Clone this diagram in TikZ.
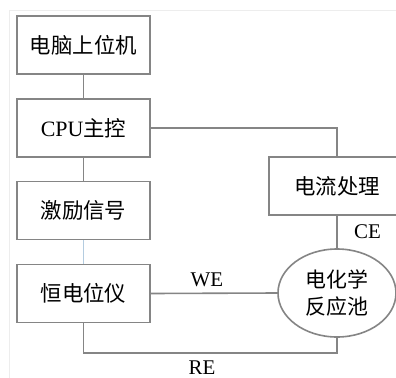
\documentclass[tikz,border=0pt]{standalone}
\usepackage{fontspec}
\setmainfont{Liberation Serif}
\newfontfamily\cjk{Noto Sans CJK SC}
\usetikzlibrary{shapes.geometric}
\definecolor{linegray}{HTML}{858585}
\definecolor{faintgray}{HTML}{EDEDED}
\definecolor{linkblue}{HTML}{B4CCE0}
\tikzset{
  stepbox/.style={draw=linegray, line width=1.6bp, minimum width=133bp, minimum height=58bp, inner sep=0pt, font=\fontsize{21.5}{26}\selectfont\cjk},
  cellshape/.style={ellipse, draw=linegray, line width=1.6bp, minimum width=118bp, minimum height=88bp, inner sep=0pt, align=center, font=\fontsize{21}{27}\selectfont\cjk},
  wire/.style={draw=linegray, line width=1.6bp},
  lbl/.style={font=\fontsize{21}{24}\selectfont, inner sep=0pt}
}
\begin{document}
\begin{tikzpicture}[x=1bp, y=-1bp]
\useasboundingbox (0,0) rectangle (396,378);
\clip (0,0) rectangle (396,378);
\fill[white] (0,0) rectangle (396,378);
\draw[faintgray, line width=0.8bp] (9,378) -- (9,10) -- (396,10);
\node[stepbox] (b1) at (83.5,45) {电脑上位机};
\node[stepbox] (b2) at (83.5,128) {{\rmfamily\fontsize{22}{26}\selectfont CPU}主控};
\node[stepbox] (b3) at (83.5,210.5) {激励信号};
\node[stepbox] (b4) at (83.5,293.5) {恒电位仪};
\node[stepbox, minimum width=136bp] (cur) at (337,186) {电流处理};
\node[cellshape] (cell) at (337,293) {电化学\\反应池};
\coordinate (rb) at (83.5,353);
\draw[wire] (b1.south) -- (b2.north);
\draw[wire] (b2.south) -- (b3.north);
\draw[draw=linkblue, line width=1.6bp] (b3.south) -- (b4.north);
\draw[wire] (b2.east) -| (cur.north);
\draw[wire] (cur.south) -- (cell.north);
\draw[wire] (b4.east) -- (cell.west);
\draw[wire] (b4.south) -- (rb) -| (cell.south);
\node[lbl] (we) at (207,280) {WE};
\node[lbl] (re) at (202,368) {RE};
\node[lbl] (ce) at (367.5,231.5) {CE};
\end{tikzpicture}
\end{document}
